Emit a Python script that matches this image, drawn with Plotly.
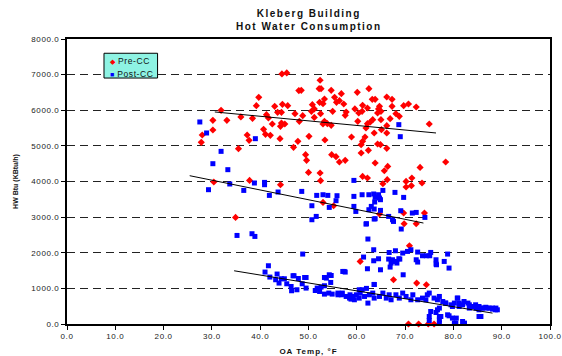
import plotly.graph_objects as go

# ---------------- data ----------------
pre_x = [27.8, 28.0, 30.2, 30.2, 31.9, 33.1, 36.0, 38.4, 35.5, 37.3, 37.7, 39.2, 39.7, 40.7, 41.1, 42.1,
         41.3, 41.7, 42.5, 43.0, 43.6, 44.4, 44.6, 45.7, 44.1, 44.4, 45.1, 44.2, 44.5, 45.5, 47.2, 46.9,
         47.8, 48.0, 48.5, 48.1, 48.8, 49.4, 49.6, 50.0, 50.1, 50.8, 51.2, 50.6, 52.2,
         30.4, 37.8, 44.2, 34.9, 53.0, 55.2,
         52.4, 52.6, 54.7, 56.8, 55.4, 53.3, 52.3, 53.0, 56.4, 55.8, 57.3, 60.1, 62.5, 63.2, 63.8, 66.2,
         67.3, 64.7, 64.5, 65.0, 64.3, 67.3, 69.7, 70.7, 72.3, 59.6, 61.2, 62.2, 61.1, 60.4, 57.8, 57.6,
         55.0, 51.2, 52.5, 66.9, 68.1, 68.8, 63.3, 65.0, 60.2, 62.8, 62.2, 61.9, 53.3, 53.9, 54.7, 53.0,
         66.2, 65.1, 75.0, 63.6, 66.2, 58.9, 61.7, 53.4, 61.2, 60.9, 64.3, 64.9, 66.2, 62.4, 60.9, 54.8,
         55.7, 56.4, 57.6, 63.8, 66.4, 65.7, 73.1, 78.4, 52.4, 61.2, 62.2, 66.3, 70.2, 71.4, 52.5, 73.5,
         65.4, 70.2, 71.3,
         69.7, 74.0, 72.3, 69.8, 64.7, 70.9, 60.7, 67.6, 72.4, 74.4, 70.7, 72.8, 74.8, 76.0]
pre_y = [5099, 5306, 5446, 5717, 5997, 5717, 5812, 5772, 4921, 5306, 5155, 6129, 6363, 5464, 5323, 5295,
         5877, 5784, 5615, 6110, 5941, 5941, 6166, 6129, 5202, 5643, 5615, 5548, 7020, 7048, 5905, 4958,
         5127, 6551, 6560, 5689, 5848, 4753, 4593, 4256, 5267, 6157, 6037, 5969, 6607,
         3986, 4031, 3910, 2992, 3413, 3320,
         6841, 6607, 6560, 6466, 6363, 6317, 6223, 6185, 6268, 6223, 6176, 6504, 6607, 6307, 6307, 6373,
         6307, 6110, 6037, 5969, 5924, 6110, 6129, 6176, 6092, 6037, 6138, 6064, 5969, 5924, 5952, 5857,
         5969, 5800, 5905, 5764, 5905, 5829, 5736, 5736, 5689, 5671, 5624, 5503, 5689, 5624, 5576, 5615,
         5567, 5455, 5615, 5362, 5362, 5250, 5250, 5165, 5127, 5034, 5053, 5034, 4930, 4874, 4799, 4753,
         4697, 4547, 4593, 4520, 4424, 4303, 4396, 4547, 4239, 4143, 4098, 4051, 4003, 4098, 4023, 3958,
         3938, 3846, 3882,
         3115, 3115, 2815, 2815, 3087, 2197, 1756, 1242, 1149, 1101, 0, 0, 0, 0]

post_x = [27.5, 28.9, 39.0, 31.9, 30.2, 33.3, 29.3, 33.7, 36.6, 38.8, 40.9, 40.9, 41.9, 43.7, 48.6, 50.7,
          51.7, 53.0, 54.0, 55.9, 55.7, 54.3, 51.6, 50.7, 35.2, 38.3, 38.9, 48.8,
          59.4, 59.4, 59.4, 59.8, 61.1, 62.5, 63.5, 63.8, 64.5, 65.4, 64.9, 63.7, 63.0, 62.5, 63.6, 64.9,
          62.0, 63.8, 67.9, 69.7, 69.1, 71.5, 72.3, 74.1, 69.2, 67.4, 67.6, 66.6, 61.9, 63.6, 68.7, 69.0,
          64.7,
          62.3, 63.5, 61.4, 64.5, 63.5, 66.7, 68.0, 66.6, 67.4, 67.1, 68.7, 68.3, 66.9, 64.9, 62.2, 69.5,
          70.5, 71.2, 72.6, 73.6, 74.4, 75.3, 75.1, 72.3, 72.6, 76.4, 76.5, 78.1, 78.8, 79.1, 69.6, 57.1,
          63.6, 76.4, 67.8, 68.9,
          41.7, 41.0, 42.0, 43.5, 43.2, 43.9, 45.0, 45.5, 46.4, 46.5, 47.6, 47.0, 47.9, 49.5, 48.7, 49.5,
          51.8, 51.4, 52.6, 53.7, 54.7, 53.3, 54.6, 53.3, 54.2, 54.9, 56.1, 56.9, 57.6, 58.5,
          44.4, 46.8, 49.2, 53.3, 54.3, 57.4, 52.3, 56.1, 58.6, 60.5, 62.0, 63.6,
          56.8, 57.0, 57.8, 58.8, 59.2, 59.5, 59.9, 60.5, 60.7, 61.1, 61.6, 62.3, 62.6, 63.3, 63.6, 64.7,
          65.4, 66.1, 66.7, 67.1, 68.1, 68.8, 69.5, 70.2, 71.2, 71.6, 72.6, 73.6, 74.3, 74.6, 75.0, 76.0,
          76.7, 77.1, 77.8, 78.4, 79.5, 80.2, 80.9, 81.2, 81.9, 83.0, 83.3, 84.0, 84.7, 85.3, 86.0, 86.7,
          87.4, 88.1, 88.7, 85.7, 79.1, 77.1, 76.4, 77.4, 77.1, 75.0, 80.2, 82.3, 80.6, 77.1,
          75.0, 77.1, 79.8, 80.5, 81.9, 78.8, 76.7, 75.3, 85.3,
          78.4, 79.8, 80.8, 81.2, 82.2, 83.3, 83.9, 84.6, 85.3, 86.0, 87.0, 88.1, 88.8, 89.1]
post_y = [5671, 5362, 5202, 4846, 4500, 4332, 3770, 3930, 3750, 3958, 3975, 3910, 3610, 3705, 3722, 3320,
          3610, 3629, 3610, 3601, 3461, 3273, 3020, 2927, 2486, 2534, 2458, 1963,
          4031, 3582, 3301, 3160, 3629, 3629, 3649, 3554, 3629, 3750, 3489, 3424, 3301, 3208, 3227, 3189,
          2815, 2955, 3694, 3554, 3180, 3115, 3132, 2992, 2666, 2927, 2879, 3020, 2806, 2947, 5596, 5258,
          3536,
          2385, 2084, 1879, 1831, 1775, 2008, 2056, 1822, 1803, 1711, 1831, 1711, 1598, 1522, 1551, 1991,
          2037, 2084, 2019, 1916, 1916, 2009, 1916, 1803, 1738, 1803, 1663, 1756, 1963, 1570, 1382, 1475,
          1110, 1682, 1756, 1822,
          1635, 1458, 1317, 1402, 1242, 1149, 1270, 1129, 1053, 933, 961, 1354, 1278, 1306, 1129, 1008,
          1008, 941, 1036, 1289, 1362, 1073, 1166, 839, 868, 839, 820, 839, 1458, 727,
          1270, 1354, 1306, 1306, 1382, 1475, 913, 868, 820, 961, 1000, 1110,
          820, 868, 773, 699, 773, 680, 820, 727, 868, 961, 773, 587, 820, 868, 727, 773,
          868, 727, 820, 680, 820, 727, 868, 773, 680, 820, 680, 727, 680, 820, 868, 727,
          680, 773, 632, 587, 539, 587, 727, 492, 539, 587, 447, 492, 447, 399, 447, 470,
          447, 447, 399, 211, 230, 447, 323, 211, 118, 98, 25, 25, 166, 25,
          211, 211, 166, 25, 70, 258, 399, 351, 211,
          587, 492, 727, 587, 632, 539, 492, 539, 492, 447, 447, 418, 447, 399]

# trend line endpoints (data units)
pre_trend_x = [30.6, 76.4]
pre_trend_y = [5952, 5362]
post_hi_trend_x = [25.4, 73.8]
post_hi_trend_y = [4163, 2834]
post_lo_trend_x = [34.6, 88.1]
post_lo_trend_y = [1494, 306]

x_ticks = [0, 10, 20, 30, 40, 50, 60, 70, 80, 90, 100]
y_ticks = [0, 1000, 2000, 3000, 4000, 5000, 6000, 7000, 8000]
series_names = ["Pre-CC", "Post-CC"]
series_colors = ["#ff0000", "#0000ff"]
series_glyphs = ["◆", "■"]
title_lines = ["Kleberg Building", "Hot Water Consumption"]

FONT = "Liberation Sans, Arial, sans-serif"
SP = "letter-spacing:0.6px"

fig = go.Figure()

fig.add_trace(go.Scatter(x=pre_x, y=pre_y, mode="markers", name=series_names[0], showlegend=False,
                         marker=dict(symbol="diamond", size=5.5, color=series_colors[0], line=dict(width=0)),
                         cliponaxis=False))
fig.add_trace(go.Scatter(x=post_x, y=post_y, mode="markers", name=series_names[1], showlegend=False,
                         marker=dict(symbol="square", size=5, color=series_colors[1], line=dict(width=0)),
                         cliponaxis=False))
for tx, ty in [(pre_trend_x, pre_trend_y), (post_hi_trend_x, post_hi_trend_y),
               (post_lo_trend_x, post_lo_trend_y)]:
    fig.add_trace(go.Scatter(x=tx, y=ty, mode="lines", showlegend=False,
                             line=dict(color="black", width=1), hoverinfo="skip"))

# manual legend box (paper coords)
fig.add_shape(type="rect", xref="paper", yref="paper", x0=0.0766, x1=0.1875, y0=0.863, y1=0.950,
              fillcolor="#8ef3e3", line=dict(color="black", width=1), layer="above")
for nm, col, gl, yy in zip(series_names, series_colors, series_glyphs, [0.924, 0.878]):
    fig.add_annotation(x=0.084, y=yy, xref="paper", yref="paper", xanchor="left", yanchor="middle",
                       text=f"<span style='color:{col};font-size:7px'>{gl}</span><span style='{SP}'> {nm}</span>",
                       showarrow=False, font=dict(family=FONT, size=8.5, color="#111"))

# title
fig.add_annotation(x=0.5, y=1.066, xref="paper", yref="paper", xanchor="center", yanchor="middle",
                   text="<b><span style='letter-spacing:1.5px'>" + "<br>".join(title_lines) + "</span></b>",
                   showarrow=False, font=dict(family=FONT, size=10, color="#111"))

fig.update_layout(
    width=562, height=356,
    margin=dict(l=67, r=12, t=39, b=32, autoexpand=False),
    paper_bgcolor="white", plot_bgcolor="white",
    font=dict(family=FONT, size=8, color="#222"),
    showlegend=False,
)

fig.update_layout(xaxis=dict(range=[0, 100], tickvals=x_ticks,
                             ticktext=[f"<span style='{SP}'>{v:.1f}</span>" for v in x_ticks],
                             showgrid=False, zeroline=False, automargin=False,
                             showline=True, linecolor="black", linewidth=1.5, mirror=True,
                             ticks="outside", ticklen=4, tickcolor="black",
                             tickfont=dict(family=FONT, size=8, color="#222"),
                             title=dict(text="<b><span style='letter-spacing:1px'>OA Temp, °F</span></b>",
                                        font=dict(family=FONT, size=8, color="#111"), standoff=9)),
                  yaxis=dict(range=[0, 8000], tickvals=y_ticks,
                             ticktext=[f"<span style='{SP}'>{v:.1f}</span>" for v in y_ticks],
                             showgrid=True, gridcolor="#222", gridwidth=1, griddash="8px,5px",
                             zeroline=False, automargin=False,
                             showline=True, linecolor="black", linewidth=2, mirror=True,
                             ticks="outside", ticklen=4, tickcolor="black",
                             tickfont=dict(family=FONT, size=8, color="#222"),
                             title=dict(text="<b>HW Btu (KBtu/h)</b>",
                                        font=dict(family=FONT, size=7, color="#111"), standoff=12)))

fig.write_html("out.html", config={"displayModeBar": False},
               post_script="document.body.style.margin='0';document.body.style.overflow='hidden';")
